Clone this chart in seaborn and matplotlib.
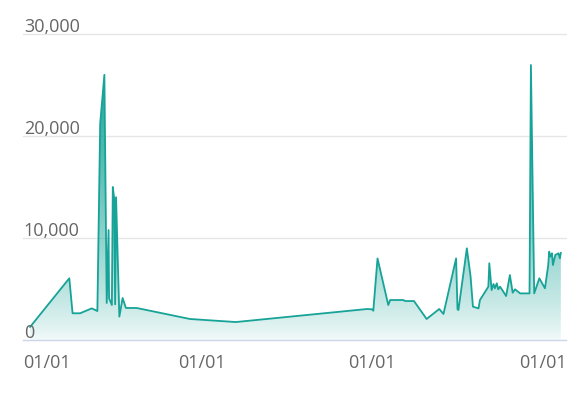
import numpy as np
import pandas as pd
import matplotlib
matplotlib.use("Agg")
import matplotlib.pyplot as plt
import matplotlib.dates as mdates
import matplotlib.transforms as mtransforms
from matplotlib.colors import to_rgb
import seaborn as sns

# ---- data -------------------------------------------------------------
dates = [
    "2020-12-30", "2021-03-24", "2021-03-31", "2021-04-16", "2021-05-11",
    "2021-05-23", "2021-05-29", "2021-06-07", "2021-06-12", "2021-06-16",
    "2021-06-17", "2021-06-23", "2021-06-25", "2021-06-28", "2021-06-30",
    "2021-07-02", "2021-07-09", "2021-07-16", "2021-07-23", "2021-08-15",
    "2021-12-07", "2022-03-15", "2022-12-21", "2022-12-31", "2023-01-03",
    "2023-01-12", "2023-02-04", "2023-02-08", "2023-03-08", "2023-03-12",
    "2023-03-31", "2023-04-27", "2023-05-24", "2023-06-02", "2023-06-29",
    "2023-07-02", "2023-07-04", "2023-07-22", "2023-07-30", "2023-08-04",
    "2023-08-16", "2023-08-19", "2023-09-06", "2023-09-08", "2023-09-13",
    "2023-09-17", "2023-09-20", "2023-09-24", "2023-09-27", "2023-10-01",
    "2023-10-08", "2023-10-14", "2023-10-22", "2023-10-28", "2023-11-02",
    "2023-11-13", "2023-12-03", "2023-12-06", "2023-12-13", "2023-12-24",
    "2024-01-05", "2024-01-12", "2024-01-14", "2024-01-17", "2024-01-20",
    "2024-01-22", "2024-01-27", "2024-02-03", "2024-02-06", "2024-02-08",
]
values = [
    1270, 6050, 2620, 2620, 3100,
    2840, 21200, 26000, 3630, 10780,
    4100, 3430, 15000, 13900, 3500,
    14000, 2290, 4120, 3140, 3140,
    2060, 1760, 3040, 3010, 2870,
    8000, 3430, 3920, 3920, 3820,
    3820, 2060, 3040, 2550, 8000,
    3010, 2940, 8990, 6210, 3270,
    3100, 3920, 5230, 7520, 4900,
    5490, 5070, 5560, 4970, 5230,
    4740, 4310, 6370, 4640, 4970,
    4570, 4570, 26960, 4570, 6050,
    5070, 7350, 8660, 8170, 8500,
    7350, 8330, 8500, 8010, 8560,
]
x_tick_dates = ["2021-01-01", "2022-01-01", "2023-01-01", "2024-01-01"]
x_tick_labels = ["01/01", "01/01", "01/01", "01/01"]
y_ticks = [0, 10000, 20000, 30000]
y_tick_labels = ["0", "10,000", "20,000", "30,000"]
x_range = ["2020-12-15", "2024-02-19"]

# ---- style ------------------------------------------------------------
LINE = "#17a397"
GRID = "#e6e6e6"
AXIS = "#ccd6eb"
TEXT = "#666666"

sns.set_style("white")
plt.rcParams["font.family"] = ["Open Sans", "DejaVu Sans"]

df = pd.DataFrame({"date": pd.to_datetime(dates), "value": values})

fig = plt.figure(figsize=(5.82, 3.94), dpi=100)
W, H = 582, 394
left, right, top, bottom = 23, 566, 34, 340
ax = fig.add_axes([left / W, 1 - bottom / H, (right - left) / W, (bottom - top) / H])

sns.lineplot(data=df, x="date", y="value", color=LINE, lw=1.3, ax=ax, zorder=4)

xlo, xhi = mdates.date2num(pd.to_datetime(x_range))
ax.set_xlim(xlo, xhi)
ax.set_ylim(0, 30000)

# gradient fill under the line
poly = ax.fill_between(df["date"], df["value"], 0, facecolor="none", edgecolor="none")
ymax = max(values)
n = 256
g = np.linspace(0, 1, n) ** 0.8
rgba = np.zeros((n, 1, 4))
rgba[..., :3] = to_rgb(LINE)
rgba[..., 3] = (0.05 + 0.95 * g).reshape(-1, 1)
im = ax.imshow(rgba, aspect="auto", origin="lower",
               extent=[xlo, xhi, 0, ymax], zorder=3, interpolation="bilinear")
im.set_clip_path(poly.get_paths()[0], transform=ax.transData)
ax.set_xlim(xlo, xhi)
ax.set_ylim(0, 30000)

# grid lines
for yv in y_ticks[1:]:
    ax.axhline(yv, color=GRID, lw=1, zorder=1, clip_on=False)

for s in ["top", "right", "left"]:
    ax.spines[s].set_visible(False)
ax.spines["bottom"].set_color(AXIS)
ax.spines["bottom"].set_linewidth(1)

xt = mdates.date2num(pd.to_datetime(x_tick_dates))
ax.set_xticks(xt)
ax.set_yticks([])
ax.tick_params(axis="x", length=9, width=1, color=AXIS, labelbottom=False, direction="out")
ax.set_xlabel("")
ax.set_ylabel("")

# y labels (inside, above grid lines)
ytrans = mtransforms.blended_transform_factory(ax.transAxes, ax.transData)
yoff = mtransforms.ScaledTranslation(0, 2 / 100, fig.dpi_scale_trans)
for yv, lab in zip(y_ticks, y_tick_labels):
    ax.text(0.0015, yv, lab, transform=ytrans + yoff, ha="left", va="baseline",
            fontsize=13, color=TEXT, zorder=5)

# x labels
xtrans = mtransforms.blended_transform_factory(ax.transData, ax.transAxes)
xoff = mtransforms.ScaledTranslation(0, -28 / 100, fig.dpi_scale_trans)
for i, (xv, lab) in enumerate(zip(xt, x_tick_labels)):
    if i == 0:
        ax.text(0.0, 0, lab, transform=ax.transAxes + xoff, ha="left", va="baseline",
                fontsize=13, color=TEXT)
    else:
        ax.text(xv, 0, lab, transform=xtrans + xoff, ha="center", va="baseline",
                fontsize=13, color=TEXT)

fig.savefig("out.png", dpi=100, facecolor="white")
